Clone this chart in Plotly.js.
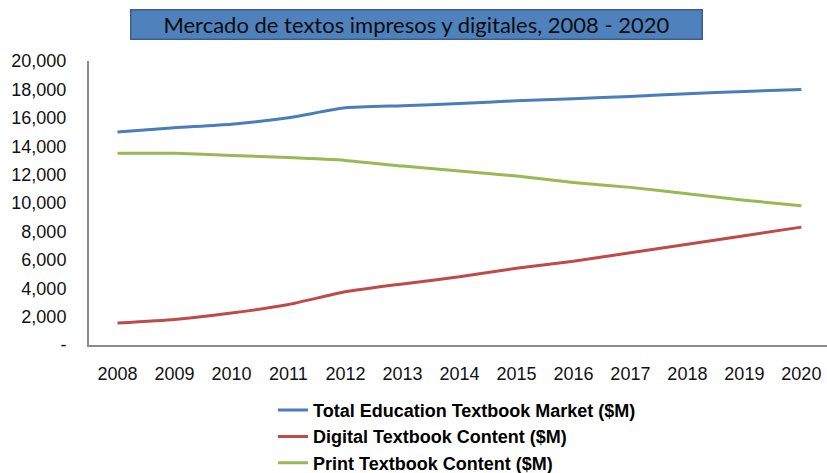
<!DOCTYPE html>
<html>
<head>
<meta charset="utf-8">
<script src="https://cdn.plot.ly/plotly-3.0.1.min.js"></script>
<style>html,body{margin:0;padding:0;background:#fff;}#chart{width:827px;height:473px;}</style>
</head>
<body>
<div id="chart"></div>
<script>
const years = [2008, 2009, 2010, 2011, 2012, 2013, 2014, 2015, 2016, 2017, 2018, 2019, 2020];
const totalMarket = [15000, 15300, 15550, 16000, 16700, 16850, 17000, 17200, 17350, 17500, 17700, 17850, 18000];
const digitalContent = [1550, 1800, 2250, 2850, 3750, 4300, 4800, 5400, 5900, 6500, 7100, 7700, 8300];
const printContent = [13500, 13500, 13350, 13200, 13000, 12600, 12250, 11900, 11450, 11100, 10650, 10200, 9800];
const seriesNames = ['Total Education Textbook Market ($M)', 'Digital Textbook Content ($M)', 'Print Textbook Content ($M)'];
const yTickVals = [0, 2000, 4000, 6000, 8000, 10000, 12000, 14000, 16000, 18000, 20000];
const yTickText = ['-', '2,000', '4,000', '6,000', '8,000', '10,000', '12,000', '14,000', '16,000', '18,000', '20,000'];
const chartTitle = 'Mercado de textos impresos y digitales, 2008 - 2020';

const colors = ['#4A7EBB', '#BE4B48', '#98B954'];
const seriesData = [totalMarket, digitalContent, printContent];

const traces = seriesData.map((vals, i) => ({
  x: years, y: vals, type: 'scatter', mode: 'lines', name: seriesNames[i],
  legendgroup: 'g' + i,
  line: {color: colors[i], width: 3, shape: 'spline', smoothing: 0.5},
  hoverinfo: 'x+y'
}));

const layout = {
  width: 827, height: 473,
  margin: {l: 89, r: 0, t: 61, b: 128, pad: 0, autoexpand: false},
  paper_bgcolor: '#fff', plot_bgcolor: '#fff',
  font: {family: 'Arial, "Liberation Sans", sans-serif', color: '#111', size: 18},
  showlegend: true,
  legend: {
    orientation: 'v', x: 0.2493, xanchor: 'left', y: -0.165, yanchor: 'top',
    font: {family: 'Arial, "Liberation Sans", sans-serif', size: 18, color: '#000', weight: 'bold'},
    tracegroupgap: 0, bgcolor: 'rgba(0,0,0,0)', borderwidth: 0
  },
  xaxis: {
    range: [2007.5, 2020.45], tickvals: years, ticktext: years.map(String),
    showgrid: false, zeroline: false, showline: true, linecolor: '#8a8a8a', linewidth: 2,
    ticks: '', ticklabelstandoff: 11, fixedrange: true,
    tickfont: {size: 18, color: '#111'}
  },
  yaxis: {
    range: [0, 20000], tickvals: yTickVals, ticktext: yTickText,
    showgrid: false, zeroline: false, showline: true, linecolor: '#8a8a8a', linewidth: 2,
    ticks: '', ticklabelstandoff: 17, fixedrange: true,
    tickfont: {size: 18, color: '#111'}
  },
  annotations: [{
    text: chartTitle, xref: 'paper', yref: 'paper', x: 0.4444, y: 1.1268,
    xanchor: 'center', yanchor: 'middle', showarrow: false,
    width: 570, height: 28, borderpad: 0,
    bgcolor: '#4F81BD', bordercolor: '#3A5F8C', borderwidth: 1.5,
    font: {family: 'Lato, "Open Sans", sans-serif', size: 22, color: '#0d0d0d'}
  }]
};

Plotly.newPlot('chart', traces, layout, {displayModeBar: false, staticPlot: true});
</script>
</body>
</html>
